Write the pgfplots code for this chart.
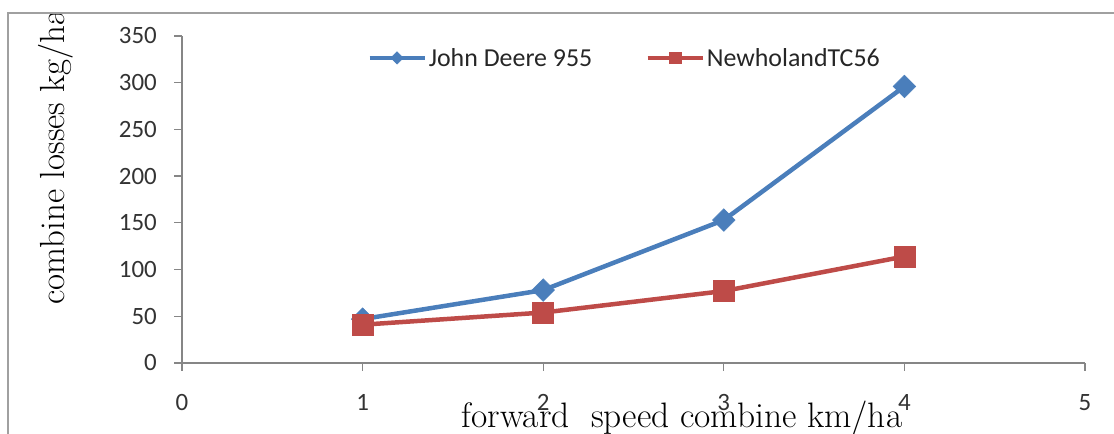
\documentclass[border=0pt]{standalone}
\usepackage{fontspec}
\usepackage{pgfplots}
\pgfplotsset{compat=1.18}
\newfontfamily\calibri{Carlito}
\definecolor{jdblue}{HTML}{4A7EBB}
\definecolor{nhred}{HTML}{BE4B48}
\definecolor{axgray}{HTML}{868686}
\definecolor{framegray}{HTML}{A0A0A0}

\begin{document}
\begin{tikzpicture}[x=1bp,y=1bp]
\useasboundingbox (0,0) rectangle (1114,434);
\begin{scope}
\clip (8,0) rectangle (1114,421);
\begin{axis}[
    at={(182bp,71bp)}, anchor=south west,
    scale only axis, width=903bp, height=327bp,
    xmin=0, xmax=5, ymin=0, ymax=350,
    xtick={0,1,2,3,4,5},
    ytick={0,50,100,150,200,250,300,350},
    axis x line=bottom, axis y line=left,
    axis line style={-, draw=axgray, line width=1.3bp},
    tick style={draw=axgray, line width=1.3bp},
    tick align=outside, major tick length=8bp,
    ticklabel style={font=\calibri\fontsize{25}{25}\selectfont, text=black!80},
    /pgf/number format/assume math mode=true,
    xticklabel style={anchor=north, inner sep=0pt, yshift=-23bp},
    yticklabel style={anchor=east, inner sep=0pt, xshift=-17bp},
    legend columns=2,
    legend style={draw=none, fill=none, at={(0.205,0.933)}, anchor=west,
        inner sep=0pt, font=\calibri\fontsize{26}{26}\selectfont, text=black!85,
        /tikz/every even column/.append style={column sep=51bp}},
    legend image code/.code={\draw[mark repeat=2, mark phase=2]
        plot coordinates {(0bp,0bp) (27.5bp,0bp) (55bp,0bp)};},
    legend image post style={every mark/.append style={scale=0.55}},
]
% John Deere 955
\addplot[color=jdblue, line width=4.5bp, mark=square*, mark size=8bp,
    mark options={rotate=45, line width=0.5bp}] coordinates {
    (1,47) (2,78) (3,153) (4,296)
};
\addlegendentry{John Deere 955}
% NewholandTC56
\addplot[color=nhred, line width=4.5bp, mark=square*, mark size=10.5bp,
    mark options={line width=0.5bp}] coordinates {
    (1,41) (2,54) (3,77) (4,114)
};
\addlegendentry{NewholandTC56}
\end{axis}
\node[rotate=90, anchor=base, font=\fontsize{35}{35}\selectfont] at (64,277) {combine losses kg/ha};
\node[anchor=base, font=\fontsize{35.5}{35.5}\selectfont] at (682,6) {forward\ \ speed combine km/ha};
\end{scope}
\draw[framegray, line width=1.5bp] (8,0) -- (8,421) -- (1114,421);
\end{tikzpicture}
\end{document}
